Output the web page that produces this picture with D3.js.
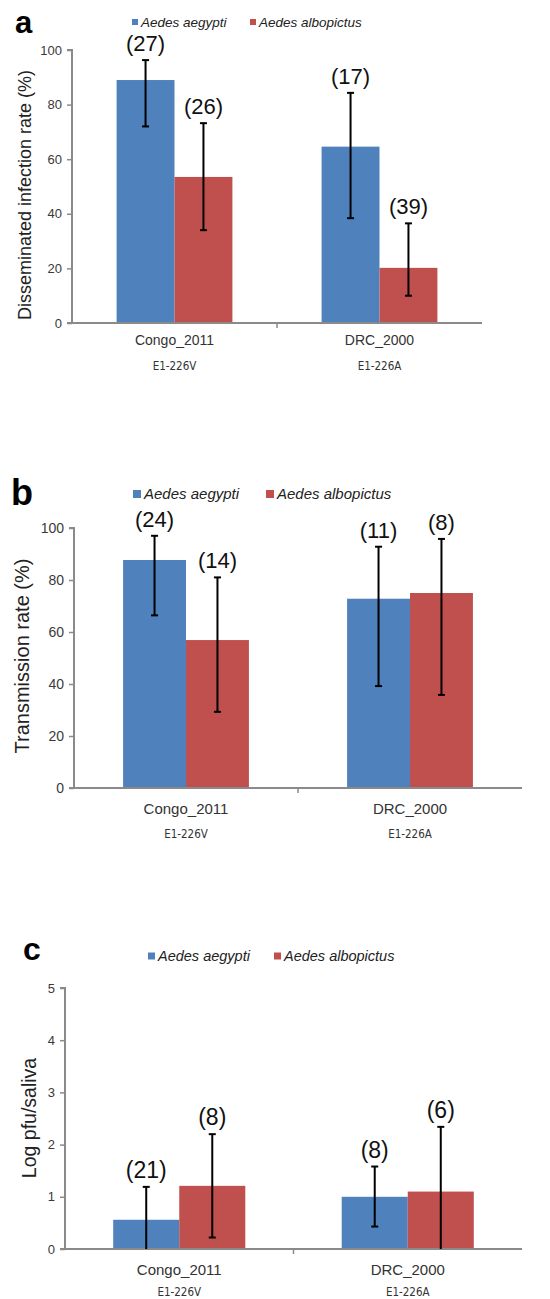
<!DOCTYPE html>
<html>
<head>
<meta charset="utf-8">
<script src="https://cdnjs.cloudflare.com/ajax/libs/d3/7.8.5/d3.min.js"></script>
<style>
  body { margin: 0; background: #fff; }
  svg { display: block; font-family: "Liberation Sans", Arial, sans-serif; }
</style>
</head>
<body>
<svg id="chart" width="550" height="1299"></svg>
<script>
// categories and series
var categories = ["Congo_2011", "DRC_2000"];
var mutations = ["E1-226V", "E1-226A"];
var species = ["Aedes aegypti", "Aedes albopictus"];
var colors = ["#4F81BD", "#C0504D"];

// a - disseminated infection rate (%), [category][species]
var dissemValues = [[89, 53.5], [64.6, 20.2]];
var dissemLow = [[72, 34], [38.4, 10]];
var dissemHigh = [[96.3, 73.2], [84.3, 36.5]];
var dissemN = [[27, 26], [17, 39]];
var percentTicks = [0, 20, 40, 60, 80, 100];

// b - transmission rate (%)
var transValues = [[87.7, 56.9], [72.8, 75]];
var transLow = [[66.4, 29.3], [39.2, 35.8]];
var transHigh = [[97, 81], [92.8, 95.8]];
var transN = [[24, 14], [11, 8]];

// c - log pfu/saliva
var salivaValues = [[0.56, 1.21], [1.0, 1.1]];
var salivaLow = [[-0.1, 0.22], [0.43, -0.1]];
var salivaHigh = [[1.19, 2.2], [1.58, 2.34]];
var salivaN = [[21, 8], [8, 6]];
var logTicks = [0, 1, 2, 3, 4, 5];

var svg = d3.select("#chart");

/*
 * Draw one panel
 */
function drawPanel(p) {
	var g = svg.append("g");

	var x0 = d3.scaleBand().domain(categories).range([p.left, p.right]);
	var x1 = d3.scaleBand().domain(species)
		.range([0, x0.bandwidth()]).paddingOuter(p.pad).paddingInner(0);
	var y = d3.scaleLinear().domain([0, p.max]).range([p.bottom, p.top]);
	var bw = x1.bandwidth();

	// bars
	categories.forEach(function(c, ci) {
		species.forEach(function(s, si) {
			var bx = x0(c) + x1(s);
			g.append("rect")
				.attr("x", bx)
				.attr("y", y(p.values[ci][si]))
				.attr("width", bw)
				.attr("height", y(0) - y(p.values[ci][si]))
				.attr("fill", colors[si]);
		});
	});

	// y axis
	var yAxis = g.append("g")
		.attr("transform", "translate(" + p.left + ",0)")
		.call(d3.axisLeft(y).tickValues(p.ticks).tickFormat(d3.format("d"))
			.tickSize(5).tickPadding(5));
	yAxis.select(".domain").attr("stroke", "#8a8a8a").attr("stroke-width", 2)
		.attr("d", "M" + (-5) + "," + y(p.max) + "H0V" + y(0));
	yAxis.selectAll(".tick line").attr("stroke", "#8a8a8a").attr("stroke-width", 1.5);
	yAxis.selectAll(".tick text")
		.attr("font-size", p.tickFont)
		.attr("fill", "#3a3a3a")
		.attr("font-family", "'Liberation Sans', Arial, sans-serif");

	// x axis line and category boundary ticks
	g.append("line")
		.attr("x1", p.left - 5).attr("x2", p.right)
		.attr("y1", y(0)).attr("y2", y(0))
		.attr("stroke", "#8a8a8a").attr("stroke-width", 2);
	categories.slice(1).forEach(function(c) {
		g.append("line")
			.attr("x1", x0(c)).attr("x2", x0(c))
			.attr("y1", y(0)).attr("y2", y(0) + 5)
			.attr("stroke", "#8a8a8a").attr("stroke-width", 1.5);
	});

	// error bars and n labels
	categories.forEach(function(c, ci) {
		species.forEach(function(s, si) {
			var cx = x0(c) + x1(s) + bw / 2;
			var lo = Math.max(0, p.low[ci][si]);
			var hi = p.high[ci][si];
			var eb = g.append("g").attr("stroke", "#000").attr("stroke-width", 2);
			eb.append("line").attr("x1", cx).attr("x2", cx)
				.attr("y1", y(lo)).attr("y2", y(hi));
			eb.append("line").attr("x1", cx - 3.5).attr("x2", cx + 3.5)
				.attr("y1", y(hi)).attr("y2", y(hi));
			if(p.low[ci][si] > 0) {
				eb.append("line").attr("x1", cx - 3.5).attr("x2", cx + 3.5)
					.attr("y1", y(lo)).attr("y2", y(lo));
			}
			g.append("text")
				.attr("x", cx)
				.attr("y", y(hi) - 9)
				.attr("text-anchor", "middle")
				.attr("font-size", p.nFont)
				.attr("fill", "#111")
				.text("(" + p.n[ci][si] + ")");
		});
	});

	// category labels
	categories.forEach(function(c, ci) {
		var cx = x0(c) + x0.bandwidth() / 2;
		g.append("text")
			.attr("x", cx).attr("y", y(0) + p.catDy)
			.attr("text-anchor", "middle")
			.attr("font-size", p.catFont)
			.attr("fill", "#333")
			.text(c);
		g.append("text")
			.attr("x", cx).attr("y", y(0) + p.subDy)
			.attr("text-anchor", "middle")
			.attr("font-size", 11.5)
			.attr("fill", "#333")
			.attr("font-family", "'DejaVu Sans Condensed', 'Liberation Sans', sans-serif")
			.text(mutations[ci]);
	});

	// y title
	g.append("text")
		.attr("text-anchor", "middle")
		.attr("transform", "translate(" + p.titleX + "," + p.titleY + ")rotate(-90)")
		.attr("dy", "0.35em")
		.attr("font-size", p.titleFont)
		.attr("fill", "#222")
		.text(p.title);

	// panel letter
	g.append("text")
		.attr("x", p.letterX).attr("y", p.letterY)
		.attr("font-size", p.letterFont)
		.attr("font-weight", "bold")
		.attr("font-family", "'Liberation Sans', Arial, sans-serif")
		.attr("fill", "#000")
		.text(p.letter);

	// legend
	species.forEach(function(s, si) {
		var lx = p.legendX[si];
		g.append("rect")
			.attr("x", lx).attr("y", p.legendY - p.sq / 2)
			.attr("width", p.sq).attr("height", p.sq)
			.attr("fill", colors[si]);
		g.append("text")
			.attr("x", lx + p.sq + 3).attr("y", p.legendY)
			.attr("dy", "0.35em")
			.attr("font-size", p.legendFont)
			.attr("font-style", "italic")
			.attr("fill", "#222")
			.text(s);
	});
}

drawPanel({
	letter: "a", letterX: 15, letterY: 33, letterFont: 31,
	left: 72, right: 482, top: 50, bottom: 323, max: 100, pad: 0.77,
	ticks: percentTicks, tickFont: 13,
	values: dissemValues, low: dissemLow, high: dissemHigh, n: dissemN, nFont: 22,
	catDy: 22, subDy: 47, catFont: 14,
	title: "Disseminated infection rate (%)", titleX: 25, titleY: 195, titleFont: 18,
	legendX: [132, 250], legendY: 22, sq: 6, legendFont: 13.5
});

drawPanel({
	letter: "b", letterX: 11, letterY: 505, letterFont: 36,
	left: 74, right: 522, top: 528, bottom: 788, max: 100, pad: 0.78,
	ticks: percentTicks, tickFont: 14,
	values: transValues, low: transLow, high: transHigh, n: transN, nFont: 22,
	catDy: 26, subDy: 50, catFont: 15,
	title: "Transmission rate (%)", titleX: 22, titleY: 656, titleFont: 20,
	legendX: [133, 266], legendY: 494, sq: 8, legendFont: 15
});

drawPanel({
	letter: "c", letterX: 23, letterY: 960, letterFont: 32,
	left: 65, right: 522, top: 988, bottom: 1249, max: 5, pad: 0.73,
	ticks: logTicks, tickFont: 13,
	values: salivaValues, low: salivaLow, high: salivaHigh, n: salivaN, nFont: 23,
	catDy: 26, subDy: 47, catFont: 15,
	title: "Log pfu/saliva", titleX: 29, titleY: 1118, titleFont: 19.5,
	legendX: [148, 274], legendY: 956, sq: 7, legendFont: 14.5
});
</script>
</body>
</html>
